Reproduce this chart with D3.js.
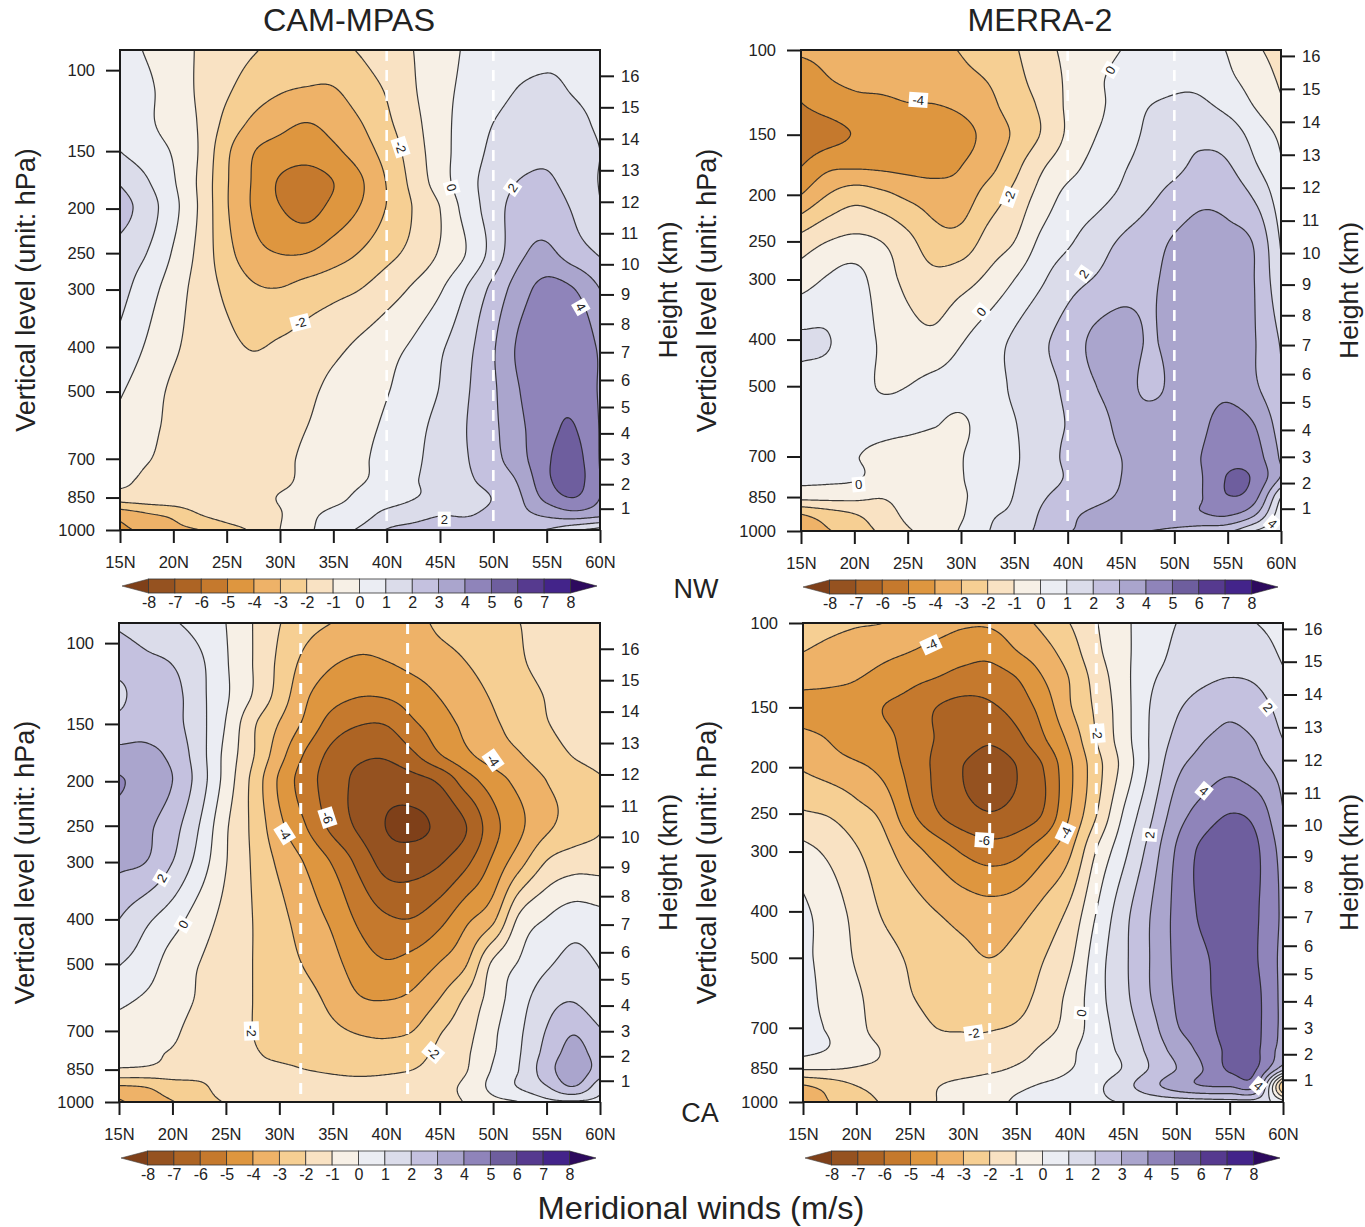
<!DOCTYPE html>
<html><head><meta charset="utf-8">
<style>
html,body{margin:0;padding:0;background:#fff}
svg{display:block}
text{font-family:"Liberation Sans",Arial,sans-serif;fill:#222}
</style>
<script src="https://cdn.jsdelivr.net/npm/d3@7"></script>
</head><body><div id="c"></div>
<script>
// ---------- categories, ticks ----------
const lats=[15,17.5,20,22.5,25,27.5,30,32.5,35,37.5,40,42.5,45,47.5,50,52.5,55,57.5,60];
const latTicks=[15,20,25,30,35,40,45,50,55,60];
const pTicks=[100,150,200,250,300,400,500,700,850,1000];
const kmTicks=[1,2,3,4,5,6,7,8,9,10,11,12,13,14,15,16];
const levels=d3.range(-8,9);
const bandColors=['#7f4019','#955220','#ad6424','#c5792d','#de963f','#eeb268','#f6cf93','#f9e2c3','#f7f0e6','#ebedf3','#dbdcea','#c4c1df','#aaa5cd','#8f84ba','#6e5e9e','#563a8f','#43248a','#2d0a5e'];
const plevA=[90,110,130,150,175,200,250,300,400,500,600,700,775,850,925,1000];
const plevB=[100,115,130,150,175,200,250,300,400,500,600,700,775,850,925,1000];

// ---------- meridional wind fields (rows: pressure, columns: latitude) ----------
const camNW=[
[.5,-.1,-.6,-1.1,-1.5,-1.9,-2.3,-2.5,-2.3,-1.9,-1.4,-1,-.4,.1,.4,.6,.8,.9,1],
[.7,.2,-.5,-1.15,-1.85,-2.5,-2.9,-3.05,-3.05,-2.5,-1.9,-1.1,-.3,.2,.6,1.05,1.15,.95,.8],
[.8,.2,-.45,-1.1,-2.3,-3.2,-3.7,-4,-3.65,-3.05,-2.2,-1.3,-.35,.4,1,1.45,1.55,1.25,.85],
[1,.5,-.1,-1.1,-2.8,-3.95,-4.4,-4.6,-4.2,-3.5,-2.6,-1.5,-.4,.5,1.2,1.6,1.8,1.5,1],
[1.9,1.1,.1,-1.2,-2.9,-4.1,-5.1,-5.4,-5,-4.15,-2.95,-1.7,-.5,.65,1.4,2.05,2.15,1.6,.95],
[2.45,1.5,.3,-1.15,-2.9,-4.1,-4.95,-5.35,-4.7,-3.95,-2.95,-1.95,-1,.4,1.5,2.5,2.6,1.9,1.1],
[1.6,1,-.1,-1.3,-2.65,-3.65,-4.02,-4,-3.5,-2.95,-2.3,-1.7,-.9,.05,1.4,2.8,3.2,2.5,1.9],
[1.35,.45,-.5,-1.4,-2.2,-2.85,-2.95,-2.6,-2.3,-2,-1.45,-.85,-.1,1.05,2.3,3.55,4.35,4.05,3],
[.7,-.1,-.85,-1.35,-1.75,-2.05,-1.85,-1.6,-1.25,-.8,-.35,.15,.85,1.7,2.9,4.2,4.75,4.8,3.85],
[.1,-.55,-1.15,-1.35,-1.5,-1.6,-1.45,-1.2,-.75,-.4,-.05,.5,1.05,1.9,2.85,4,4.75,4.8,3.9],
[-.3,-.8,-1.15,-1.3,-1.45,-1.5,-1.3,-1,-.65,-.25,.15,.7,1.3,2,2.8,3.8,4.7,5.05,3.95],
[-.65,-.95,-1.2,-1.3,-1.4,-1.45,-1.2,-.85,-.5,-.15,.3,.8,1.4,1.95,2.7,3.65,4.85,5.4,3.95],
[-.75,-1.15,-1.25,-1.3,-1.35,-1.4,-1.2,-.8,-.45,-.1,.3,.9,1.35,1.85,2.4,3.2,4.8,5.5,4],
[-1.5,-1.4,-1.3,-1.3,-1.3,-1.3,-.95,-.7,-.3,.2,.5,.95,1.3,1.7,2.05,2.9,4.3,5,4],
[-3.6,-3.1,-2.75,-2,-1.6,-1.4,-1.05,-.3,.25,.55,1.3,1.65,1.95,1.95,2.2,2.7,3.2,3.6,3.3],
[-4.3,-3.7,-3.3,-3,-2.4,-1.85,-1,-.2,.5,1.15,2.05,2.3,2.4,2.35,2.25,2.15,1.95,1.2,.6]];

const merraNW=[
[-3.8,-3.7,-3.6,-3.5,-3.35,-3.2,-2.95,-2.5,-2.1,-1.35,-.8,-.4,0,.25,.4,.35,-.05,-.8,-1.4],
[-4.6,-4.05,-3.8,-3.65,-3.5,-3.35,-3.25,-2.95,-2.3,-1.6,-.85,-.2,.25,.5,.8,.75,.2,-.4,-1.15],
[-5.05,-4.6,-4.3,-4.25,-4.05,-4.02,-3.8,-3.3,-2.5,-1.85,-.85,-.25,.35,.95,1.15,1.15,.7,-.05,-.85],
[-5.7,-5.35,-4.95,-4.7,-4.6,-4.5,-4.3,-3.7,-2.85,-1.95,-.85,-.05,.45,1.2,1.7,1.8,1.55,.65,-.2],
[-5,-4.2,-4.1,-4.15,-4.25,-4.3,-4,-3.35,-2.3,-1.15,-.35,.3,.85,1.45,1.8,2.2,2.1,1.15,.1],
[-4,-3,-2.45,-2.75,-3.2,-3.5,-3.55,-2.6,-1.75,-.65,.25,.6,1.15,1.75,2.3,2.75,2.6,1.85,.45],
[-1.6,-1,-.75,-1,-1.7,-2.6,-2.6,-1.65,-1,.2,.85,1.5,2.1,2.55,3.1,3.4,3.3,2.9,.9],
[-.45,.1,.35,-.5,-1.25,-1.7,-1.4,-.8,0,.85,1.6,2.05,2.5,2.85,3.2,3.55,3.5,3,1.2],
[1.15,1.05,.45,-.1,-.6,-.75,-.1,.5,1.15,1.8,2.4,3.2,3.5,2.95,3.25,3.6,3.6,3.05,1.9],
[.6,.5,.3,-.05,0,.25,.4,.6,1.15,1.65,2.2,2.95,3.4,2.8,3.2,3.6,3.75,3.15,2.1],
[.45,.35,.3,.25,.2,.05,-.15,.5,.95,1.55,2.05,2.5,3.25,3.4,3.4,3.8,4.4,4,2.5],
[.3,.2,.05,-.25,-.5,-.6,-.05,.45,.9,1.45,2.2,2.55,3,3.4,3.6,4,4.7,4.45,2.85],
[.25,.2,.1,-.3,-.45,-.5,-.05,.4,.95,1.5,2.1,2.6,3,3.4,3.6,3.95,5.05,4.85,2.9],
[-.7,-.7,-.75,-.95,-.65,-.5,-.1,.35,1.05,1.85,2.4,2.75,3.1,3.4,3.6,3.95,4.95,4.35,1],
[-3.05,-2.5,-2.05,-1.5,-.8,-.5,-.1,.8,1.25,2.1,2.8,3.15,3.4,3.6,3.7,3.9,4.1,3.1,.3],
[-3.8,-3.1,-2.5,-1.85,-1.1,-.7,.1,.95,1.6,2.2,2.95,3,3,3,2.8,2.5,2.2,1,0]];

const camCA=[
[1.85,1.5,1.1,.6,0,-1,-1.95,-2.6,-3,-3.4,-3.5,-3.4,-2.75,-2.5,-2.25,-2,-1.85,-1.75,-1.65],
[2.4,2.2,1.95,1.2,.1,-1,-2.2,-3.3,-3.9,-4.15,-4.02,-3.75,-3.4,-3,-2.6,-2.1,-1.75,-1.6,-1.45],
[1.7,2.6,2.35,1.3,.15,-1.05,-2.4,-3.85,-4.6,-4.95,-4.9,-4.5,-3.95,-3.4,-2.9,-2.4,-1.95,-1.7,-1.55],
[2.4,2.65,2.35,1.35,-.05,-1.8,-3.05,-4.25,-5.45,-5.95,-5.95,-5.15,-4.45,-3.75,-3.15,-2.6,-2.05,-1.7,-1.55],
[3.3,3.25,2.75,1.45,-.3,-1.9,-3.6,-5.15,-6.3,-6.8,-6.85,-6.15,-5.05,-4.2,-3.5,-3.05,-2.45,-1.95,-1.6],
[4.1,3.65,3,1.55,-.4,-2.25,-4.15,-5.55,-6.5,-7.25,-7.55,-7.35,-6.85,-5.5,-4.5,-3.7,-3,-2.55,-2.1],
[3.5,3.2,2.4,1,-.85,-2.2,-3.75,-5,-6.3,-7.2,-8.02,-8.2,-7.8,-7,-5.35,-4.2,-3.2,-2.6,-2.1],
[3.2,3,2,.6,-.95,-2.1,-3.2,-4.1,-5.1,-6.3,-7.4,-7.45,-7.1,-6.2,-4.8,-3.35,-1.95,-1.45,-1.4],
[2,1.2,.45,-.5,-1.3,-2,-2.7,-3.5,-4.2,-5.2,-5.85,-5.95,-5.3,-4.2,-3.2,-.75,.05,.55,.35],
[1.05,.5,-.45,-1,-1.45,-2,-2.5,-3.1,-3.7,-4.5,-4.9,-4.6,-3.95,-3.05,-.8,.1,.85,1.3,.95],
[.2,-.15,-.6,-1.1,-1.5,-2,-2.2,-2.65,-3.25,-3.9,-4,-3.75,-2.95,-1.8,-.5,.6,1.6,1.95,1.2],
[-.4,-.55,-.85,-1.35,-1.6,-2,-2.15,-2.45,-2.8,-3.1,-3.2,-3,-2.1,-1.35,-.2,.85,2.05,2.9,2.1],
[-.75,-.85,-1.05,-1.4,-1.65,-1.95,-2.1,-2.15,-2.35,-2.6,-2.65,-2.4,-1.8,-1.15,-.1,.95,2.3,3.3,2.5],
[-1.1,-1.15,-1.3,-1.5,-1.7,-1.85,-1.9,-2,-2.1,-2.2,-2.15,-2,-1.6,-1.05,.1,1.05,2.55,3.6,2.55],
[-3.1,-2.95,-2.5,-2.2,-1.6,-1.55,-1.55,-1.6,-1.7,-1.7,-1.65,-1.5,-1.25,-.8,.3,1.1,1.95,3,1.4],
[-4.2,-3.4,-3.05,-2.4,-1.95,-1.6,-1.5,-1.5,-1.45,-1.4,-1.35,-1.3,-1.15,-.95,-.3,0,.7,.85,.7]];

const merraCA=[
[-2.6,-2.75,-2.9,-3,-3.4,-3.6,-3.85,-3.85,-3.4,-2.75,-2,-1.05,-.2,.4,1,1.35,1.4,1,.65],
[-3,-3.25,-3.5,-3.75,-4,-4.3,-4.6,-4.7,-4.05,-3.4,-2.5,-1.25,-.25,.5,1.2,1.55,1.75,1.45,.85],
[-3.6,-3.75,-3.95,-4.3,-4.7,-5,-5.35,-5.45,-5,-4,-2.95,-1.6,-.35,.8,1.4,1.8,2,1.85,1.15],
[-4.4,-4.4,-4.5,-5,-5.35,-6,-6.3,-6.15,-5.6,-4.6,-3.1,-1.8,-.45,1,1.85,2.45,2.8,2.45,1.6],
[-3.7,-4.05,-4.6,-4.7,-5.4,-6.05,-6.45,-6.85,-6.3,-5.15,-3.75,-2,-.5,1.05,2.25,2.95,3.2,2.95,2],
[-3.1,-3.45,-3.8,-4.3,-5.3,-6.2,-7,-7.45,-7,-6,-4.2,-2.4,-.7,1.1,2.75,3.4,3.75,3.3,2.65],
[-1.9,-2.1,-2.65,-3.25,-4.75,-5.9,-6.6,-6.95,-6.65,-5.95,-4,-2.05,.05,1.75,3.5,4.4,5,4.65,3.05],
[-.7,-1.2,-1.9,-2.65,-3.55,-4.35,-5.1,-5.5,-5.25,-4.35,-3.15,-.95,.7,2.35,4.1,5.25,5.75,5.15,3.6],
[.2,-.5,-1.3,-2.1,-2.55,-3,-3.4,-3.6,-3.4,-2.7,-1.8,0,1.6,2.95,4.25,5.2,5.7,5.1,3.8],
[.2,-.35,-1.1,-1.65,-2.1,-2.45,-2.75,-3,-2.7,-2.05,-1.2,.5,1.75,3,4.2,4.85,5.4,5.05,3.7],
[.35,-.3,-.85,-1.5,-1.95,-2.25,-2.45,-2.55,-2.35,-1.7,-.75,.6,1.7,2.95,4.1,4.75,5.45,5.2,3.7],
[.25,-.1,-.75,-1.35,-1.7,-2,-2.05,-2.05,-1.9,-1.4,-.6,.5,1.45,2.55,3.9,4.55,5.4,5.2,3.7],
[.3,-.05,-.7,-1.05,-1.55,-1.75,-1.8,-1.75,-1.4,-.85,-.2,.5,1.25,2.25,3.4,4.3,5.2,5.15,3.5],
[-.85,-.9,-1.05,-1.15,-1.35,-1.5,-1.5,-1.25,-.9,-.55,-.05,.4,1.05,2.05,3,4,5.15,5.05,2.5],
[-3.1,-2.6,-2,-1.65,-1.4,-1.05,-.7,-.4,-.2,.1,.35,.8,1.6,2.6,3.5,4,4.1,4,-3],
[-3.9,-3,-2.5,-1.9,-1.45,-1,-.75,-.4,.15,.4,.6,.85,1.05,1.3,1.4,1.5,1.6,1.5,.5]];

// contour labels: latitude, pressure, text, rotation
const labelsCamNW=[[41.3,147,'-2',72],[46.1,180,'0',75],[51.8,180,'2',-55],[58.2,327,'4',60],[31.9,354,'-2',-15],[45.4,947,'2',0]];
const labelsMerraNW=[[26,127,'-4',4],[44,110,'0',-60],[34.5,202,'-2',-70],[41.5,292,'2',-55],[31.9,350,'0',-50],[20.4,800,'0',-5],[59.2,965,'4',40]];
const labelsCamCA=[[50,180,'-4',55],[34.5,240,'-6',72],[30.5,260,'-4',58],[19,325,'2',-60],[21,410,'0',-60],[27.4,700,'-2',88],[44.4,780,'-2',40]];
const labelsMerraCA=[[27,111,'-4',-25],[32,284,'-6',4],[39.6,274,'-4',-65],[42.6,170,'-2',85],[47.5,277,'2',-85],[52.6,224,'4',40],[58.6,150,'2',50],[31,718,'-2',-8],[41.1,652,'0',-85],[57.7,925,'4',40]];

const panels=[
 {key:'camNW',title:'CAM-MPAS',titleX:349,titleW:172,left:120,top:50,w:480,h:480,pTop:90.4,field:camNW,plev:plevA,dash:[40,50],labels:labelsCamNW,xTitleL:26,xTitleR:668},
 {key:'merraNW',title:'MERRA-2',titleX:1040,titleW:145,left:801,top:50,w:480,h:481,pTop:100,field:merraNW,plev:plevB,dash:[40,50],labels:labelsMerraNW,xTitleL:707,xTitleR:1349},
 {key:'camCA',left:119,top:623,w:481,h:479,pTop:90.4,field:camCA,plev:plevA,dash:[32,42],labels:labelsCamCA,xTitleL:25,xTitleR:668},
 {key:'merraCA',left:803,top:623,w:480,h:479,pTop:100,field:merraCA,plev:plevB,dash:[32.5,42.5],labels:labelsMerraCA,xTitleL:707,xTitleR:1349}
];

const svg=d3.select('#c').append('svg').attr('width',1365).attr('height',1227);
const defs=svg.append('defs');

// standard atmosphere, for the height axis
function pressureAt(km){
  const m=km*1000;
  if(m<=11000) return 1013.25*Math.pow(1-2.25577e-5*m,5.25588);
  return 226.32*Math.exp(-(m-11000)/6341.6);
}
// cubic Hermite resampling of one profile for drawing smooth shading
function sampler(xs){
  return (ys,x)=>{
    const n=xs.length; x=Math.max(xs[0],Math.min(xs[n-1],x));
    let i=d3.bisectRight(xs,x)-1; i=Math.max(0,Math.min(n-2,i));
    const h=xs[i+1]-xs[i],t=(x-xs[i])/h;
    const m0=i>0?(ys[i+1]-ys[i-1])/(xs[i+1]-xs[i-1]):(ys[1]-ys[0])/(xs[1]-xs[0]);
    const m1=i<n-2?(ys[i+2]-ys[i])/(xs[i+2]-xs[i]):(ys[n-1]-ys[n-2])/(xs[n-1]-xs[n-2]);
    const t2=t*t,t3=t2*t;
    return (2*t3-3*t2+1)*ys[i]+(t3-2*t2+t)*h*m0+(-2*t3+3*t2)*ys[i+1]+(t3-t2)*h*m1;
  };
}

panels.forEach(P=>{
  const x=d3.scaleLinear([15,60],[P.left,P.left+P.w]);
  const y=d3.scaleLog([P.pTop,1000],[P.top,P.top+P.h]);
  const g=svg.append('g');
  const clip='clip-'+P.key;
  defs.append('clipPath').attr('id',clip).append('rect')
    .attr('x',P.left).attr('y',P.top).attr('width',P.w).attr('height',P.h);
  const plot=g.append('g').attr('clip-path',`url(#${clip})`);

  // resample field for drawing
  const step=1.5;
  const M=Math.round(P.w/step)+1,N=Math.round(P.h/step)+1;
  const logP=P.plev.map(Math.log);
  const sLat=sampler(lats),sP=sampler(logP);
  const targetLat=d3.range(M).map(i=>x.invert(P.left+i*P.w/(M-1)));
  const rowsAtLat=targetLat.map(la=>P.field.map(r=>sLat(r,la)));
  const values=new Float64Array(M*N);
  for(let j=0;j<N;j++){
    const lp=Math.log(y.invert(P.top+j*P.h/(N-1)));
    for(let i=0;i<M;i++) values[i+j*M]=sP(rowsAtLat[i],lp);
  }
  const sx=P.w/(M-1),sy=P.h/(N-1);
  const geo=d3.geoPath(d3.geoTransform({point(a,b){this.stream.point(P.left+(a-.5)*sx,P.top+(b-.5)*sy);}}));
  const conts=d3.contours().size([M,N]).thresholds(levels)(values);

  plot.append('rect').attr('x',P.left).attr('y',P.top).attr('width',P.w).attr('height',P.h).attr('fill',bandColors[0]);
  plot.selectAll('path.f').data(conts).join('path').attr('class','f')
    .attr('d',geo).attr('fill',(d,i)=>bandColors[i+1]).attr('stroke',(d,i)=>bandColors[i+1]).attr('stroke-width',.4);
  plot.selectAll('path.l').data(conts).join('path').attr('class','l')
    .attr('d',geo).attr('fill','none').attr('stroke','#262626').attr('stroke-width',1.2).attr('stroke-opacity',.9);

  // dashed white latitude guides
  plot.selectAll('line.d').data(P.dash).join('line').attr('class','d')
    .attr('x1',d=>x(d)).attr('x2',d=>x(d)).attr('y1',P.top).attr('y2',P.top+P.h)
    .attr('stroke','#fff').attr('stroke-width',P.top>100?3:2.6).attr('stroke-dasharray','11 9');

  // contour labels
  const lab=plot.selectAll('g.lab').data(P.labels).join('g').attr('class','lab')
    .attr('transform',d=>`translate(${x(d[0])},${y(d[1])}) rotate(${d[3]})`);
  lab.append('rect').attr('x',d=>d[2].length>1?-9.5:-6.5).attr('y',-7.5).attr('width',d=>d[2].length>1?19:13).attr('height',15).attr('fill','#fff');
  lab.append('text').attr('text-anchor','middle').attr('dy','.36em').attr('font-size',13).text(d=>d[2]);

  // frame
  g.append('rect').attr('x',P.left).attr('y',P.top).attr('width',P.w).attr('height',P.h)
    .attr('fill','none').attr('stroke','#1a1a1a').attr('stroke-width',2);

  // axes
  const style=a=>{
    a.select('.domain').remove();
    a.selectAll('.tick line').attr('stroke','#1a1a1a').attr('stroke-width',2);
    a.selectAll('.tick text').attr('font-size',16.5).attr('fill','#222').attr('font-family','"Liberation Sans",Arial,sans-serif');
  };
  g.append('g').attr('transform',`translate(0,${P.top+P.h})`)
    .call(d3.axisBottom(x).tickValues(latTicks).tickSize(13).tickPadding(13).tickFormat(d=>d+'N')).call(style);
  g.append('g').attr('transform',`translate(${P.left},0)`)
    .call(d3.axisLeft(y).tickValues(pTicks).tickSize(14).tickPadding(11).tickFormat(d=>d)).call(style);
  g.append('g').attr('transform',`translate(${P.left+P.w},0)`)
    .call(d3.axisRight(y).tickValues(kmTicks.map(pressureAt)).tickSize(14).tickPadding(7).tickFormat((d,i)=>kmTicks[i])).call(style);

  // axis titles
  const cy=P.top+P.h/2;
  g.append('text').attr('transform',`translate(${P.xTitleL+9},${cy}) rotate(-90)`).attr('text-anchor','middle').attr('font-size',27).text('Vertical level (unit: hPa)');
  g.append('text').attr('transform',`translate(${P.xTitleR+9},${cy}) rotate(-90)`).attr('text-anchor','middle').attr('font-size',26.5).text('Height (km)');
  if(P.title) g.append('text').attr('x',P.titleX).attr('y',31).attr('text-anchor','middle').attr('font-size',32).attr('textLength',P.titleW).attr('lengthAdjust','spacingAndGlyphs').text(P.title);

  // colour bar
  const cb=d3.scaleLinear([-8,8],[P.left+28.5,P.left+450.5]);
  const cy0=P.top+P.h+49,ch=14;
  const bar=g.append('g');
  bar.append('path').attr('d',d3.line()([[cb(-8),cy0],[P.left+2,cy0+ch/2],[cb(-8),cy0+ch]])+'Z').attr('fill',bandColors[0]).attr('stroke','#444').attr('stroke-width',.6);
  bar.append('path').attr('d',d3.line()([[cb(8),cy0],[P.left+477,cy0+ch/2],[cb(8),cy0+ch]])+'Z').attr('fill',bandColors[17]).attr('stroke','#222').attr('stroke-width',.6);
  bar.selectAll('rect').data(levels.slice(0,-1)).join('rect')
    .attr('x',d=>cb(d)).attr('y',cy0).attr('width',d=>cb(d+1)-cb(d)).attr('height',ch)
    .attr('fill',(d,i)=>bandColors[i+1]).attr('stroke','#333').attr('stroke-width',.8);
  const ca=g.append('g').attr('transform',`translate(0,${cy0+ch})`)
    .call(d3.axisBottom(cb).tickValues(levels).tickSize(0).tickPadding(4).tickFormat(d=>d));
  ca.select('.domain').remove();
  ca.selectAll('.tick text').attr('font-size',16).attr('fill','#222').attr('font-family','"Liberation Sans",Arial,sans-serif');
});

svg.append('text').attr('x',696).attr('y',598).attr('text-anchor','middle').attr('font-size',27).text('NW');
svg.append('text').attr('x',700).attr('y',1122).attr('text-anchor','middle').attr('font-size',27).text('CA');
svg.append('text').attr('x',701).attr('y',1219).attr('text-anchor','middle').attr('font-size',32).attr('textLength',327).attr('lengthAdjust','spacingAndGlyphs').text('Meridional winds (m/s)');
</script></body></html>
